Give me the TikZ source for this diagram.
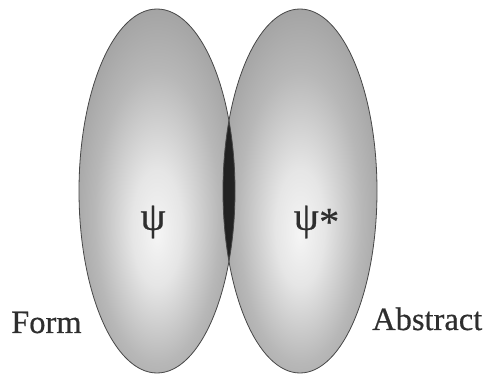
\documentclass[tikz,border=0pt]{standalone}
\usepackage{fontspec}
\setmainfont{Liberation Serif}
\newfontfamily\labelfont{Liberation Serif}[FakeBold=0.5]
\pgfdeclareradialshading{lobe}{\pgfpoint{0bp}{-6bp}}{%
  color(0bp)=(black!4); color(8bp)=(black!10); color(20bp)=(black!28);
  color(32bp)=(black!40); color(44bp)=(black!46); color(50bp)=(black!62)}
\pgfdeclareradialshading{core}{\pgfpoint{0bp}{0bp}}{%
  color(0bp)=(black!82); color(30bp)=(black!88); color(50bp)=(black!95)}
\tikzset{
  lobeshade/.style={shading=lobe},
  rim/.style={draw=black!72, line width=0.8pt},
  lbl/.style={inner sep=0pt, font=\labelfont\fontsize{32.5}{38}\selectfont, text=black!82},
  greek/.style={inner sep=0pt, font=\labelfont\fontsize{40}{44}\selectfont, text=black!82}
}
\begin{document}
\begin{tikzpicture}[x=1pt, y=-1pt]
\useasboundingbox (0,0) rectangle (488,382);
\fill[white] (0,0) rectangle (488,382);
% left lobe
\shade[lobeshade] (157,191) ellipse [x radius=78, y radius=182];
% right lobe
\shade[lobeshade] (300,191) ellipse [x radius=77, y radius=182];
% overlap
\begin{scope}
  \clip (157,191) ellipse [x radius=78, y radius=182];
  \shade[shading=core] (300,191) ellipse [x radius=77, y radius=182];
\end{scope}
\draw[rim] (157,191) ellipse [x radius=78, y radius=182];
\draw[rim] (300,191) ellipse [x radius=77, y radius=182];
% labels
\node[greek] (psi) at (153,222) {ψ};
\node[greek, anchor=east] (psistar) at (319,222) {ψ};
\node[greek, anchor=west] (star) at (psistar.east) {*};
\node[lbl, anchor=base west] (form) at (11,333) {Form};
\node[lbl, anchor=base west] (abstract) at (372,330) {Abstract};
\end{tikzpicture}
\end{document}
